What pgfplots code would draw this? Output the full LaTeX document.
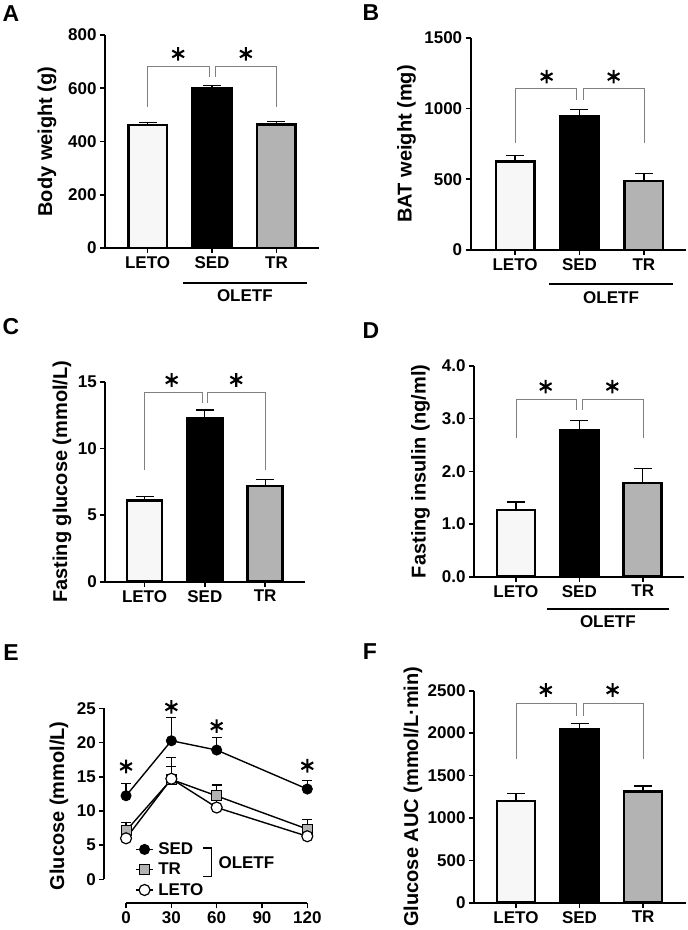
\documentclass[border=0pt]{standalone}
\usepackage{fontspec}
\setmainfont{Liberation Sans}
\usepackage{pgfplots}
\pgfplotsset{compat=1.18}
\definecolor{letof}{HTML}{F7F7F7}
\definecolor{trf}{HTML}{B3B3B3}
\definecolor{brk}{HTML}{808080}
\newcommand{\tickfont}{\fontsize{17}{18}\selectfont\bfseries}
\newcommand{\labfont}{\fontsize{20}{22}\selectfont\bfseries}
\newcommand{\letfont}{\fontsize{23}{24}\selectfont\bfseries}
\pgfplotsset{
 base/.style={scale only axis, axis x line*=bottom, axis y line*=left, tick align=outside,
   major tick length=5pt, axis line style={line width=1.8pt}, tick style={line width=1.6pt, black},
   clip=false, /pgf/number format/assume math mode=true, tick label style={font=\tickfont},
   ylabel style={font=\labfont}, /pgf/number format/1000 sep={}},
 barax/.style={base, ymin=0, xtick={0,1,2}, xticklabels={LETO,SED,TR}, bar width=0.6},
 myerr/.style={error bars/.cd, y dir=plus, y explicit, error bar style={line width=1.3pt, black},
   error mark options={rotate=90, line width=1.3pt, mark size=9pt, black}},
 mybar/.style={ybar, bar shift=0pt, draw=black, line width=2.6pt, fill=#1, myerr},
 lerr/.style={error bars/.cd, y dir=plus, y explicit, error bar style={line width=1.2pt},
   error mark options={rotate=90, line width=1.2pt, mark size=5pt}},
 brk/.style={draw=brk, line width=1.1pt},
 star/.style={only marks, mark=asterisk, mark size=6.8pt, line width=2.1pt, black},
}
\begin{document}
\begin{tikzpicture}
\path[use as bounding box] (0,0) rectangle (688pt,-930pt);
\node[font=\letfont] at (11pt,-14pt) {A};
\node[font=\letfont] at (371pt,-13pt) {B};
\node[font=\letfont] at (11pt,-327pt) {C};
\node[font=\letfont] at (371pt,-331pt) {D};
\node[font=\letfont] at (11pt,-653pt) {E};
\node[font=\letfont] at (370pt,-652pt) {F};

% A
\begin{axis}[barax, at={(105pt,-248pt)}, anchor=south west, width=214pt, height=213pt,
  xmin=-0.66, xmax=2.66, ymax=800, ytick={0,200,...,800}, ylabel={Body weight (g)},
  ylabel style={at={(axis description cs:-0.271,0.5)}, anchor=center}]
\addplot[mybar=letof] coordinates {(0,462) +- (0,10)};
\addplot[mybar=black] coordinates {(1,600) +- (0,11)};
\addplot[mybar=trf] coordinates {(2,463) +- (0,12)};
\draw[brk] (axis cs:0,530) |- (axis cs:0.95,681) -- (axis cs:0.95,643);
\draw[brk] (axis cs:2,530) |- (axis cs:1.05,681) -- (axis cs:1.05,643);
\addplot[star] coordinates {(0.475,729) (1.525,729)};
\draw[line width=2.2pt] ([yshift=-35pt]axis cs:0.55,0) -- ([yshift=-35pt]axis cs:2.47,0);
\node[font=\tickfont] at ([yshift=-48pt]axis cs:1.51,0) {OLETF};
\end{axis}

% B
\begin{axis}[barax, at={(470.7pt,-250pt)}, anchor=south west, width=215pt, height=212.3pt,
  xmin=-0.69, xmax=2.65, ymax=1500, ytick={0,500,1000,1500}, ylabel={BAT weight (mg)},
  ylabel style={at={(axis description cs:-0.299,0.5)}, anchor=center}]
\addplot[mybar=letof] coordinates {(0,624) +- (0,45)};
\addplot[mybar=black] coordinates {(1,942) +- (0,52)};
\addplot[mybar=trf] coordinates {(2,488) +- (0,54)};
\draw[brk] (axis cs:0,758) |- (axis cs:0.95,1143) -- (axis cs:0.95,1060);
\draw[brk] (axis cs:2,758) |- (axis cs:1.05,1143) -- (axis cs:1.05,1060);
\addplot[star] coordinates {(0.49,1225) (1.53,1225)};
\draw[line width=2.2pt] ([yshift=-34pt]axis cs:0.53,0) -- ([yshift=-34pt]axis cs:2.45,0);
\node[font=\tickfont] at ([yshift=-48pt]axis cs:1.49,0) {OLETF};
\end{axis}

% C
\begin{axis}[barax, at={(105.3pt,-581.7pt)}, anchor=south west, width=199.7pt, height=200pt,
  xmin=-0.65, xmax=2.66, ymax=15, ytick={0,5,10,15}, ylabel={Fasting glucose (mmol/L)}, bar width=0.58,
  ylabel style={at={(axis description cs:-0.217,0.5)}, anchor=center}]
\addplot[mybar=letof] coordinates {(0,6.08) +- (0,0.3)};
\addplot[mybar=black] coordinates {(1,12.23) +- (0,0.65)};
\addplot[mybar=trf] coordinates {(2,7.18) +- (0,0.5)};
\draw[brk] (axis cs:0,8.38) |- (axis cs:0.95,14.18) -- (axis cs:0.95,13.38);
\draw[brk] (axis cs:2,8.38) |- (axis cs:1.04,14.18) -- (axis cs:1.04,13.38);
\addplot[star] coordinates {(0.45,15.13) (1.52,15.13)};
\end{axis}

% D
\begin{axis}[barax, at={(474pt,-576.7pt)}, anchor=south west, width=210pt, height=210.7pt,
  xmin=-0.66, xmax=2.65, ymax=4, ytick={0,1,...,4}, ylabel={Fasting insulin (ng/ml)},
  yticklabel style={/pgf/number format/.cd, fixed, fixed zerofill, precision=1},
  ylabel style={at={(axis description cs:-0.255,0.5)}, anchor=center}]
\addplot[mybar=letof] coordinates {(0,1.27) +- (0,0.15)};
\addplot[mybar=black] coordinates {(1,2.77) +- (0,0.19)};
\addplot[mybar=trf] coordinates {(2,1.78) +- (0,0.28)};
\draw[brk] (axis cs:0,2.64) |- (axis cs:0.95,3.37) -- (axis cs:0.95,3.17);
\draw[brk] (axis cs:2,2.64) |- (axis cs:1.05,3.37) -- (axis cs:1.05,3.17);
\addplot[star] coordinates {(0.47,3.61) (1.52,3.61)};
\draw[line width=2.2pt] ([yshift=-32.6pt]axis cs:0.49,0) -- ([yshift=-32.6pt]axis cs:2.41,0);
\node[font=\tickfont] at ([yshift=-45pt]axis cs:1.45,0) {OLETF};
\end{axis}

% E
\begin{axis}[base, at={(104.3pt,-903.3pt)}, anchor=south west, width=203pt, height=195pt,
  xmin=-14.4, xmax=120, ymin=-3.5, ymax=25, ytick={0,5,...,25}, xtick={0,30,...,120},
  axis line style={draw=none}, ylabel={Glucose (mmol/L)},
  ylabel style={at={(axis description cs:-0.223,0.5)}, anchor=center},
  legend style={at={(axis cs:6,5.6)}, anchor=north west, draw=none, fill=none,
    font=\tickfont, row sep=4pt, column sep=3pt, inner sep=0pt, nodes={inner sep=1.5pt}}, legend cell align=left]
\addplot[black, line width=1.4pt, mark=*, mark size=5pt, mark options={fill=black, line width=1pt}, lerr]
  coordinates {(0,12.22) +- (0,1.8) (30,20.26) +- (0,3.35) (60,18.9) +- (0,1.8) (120,13.2) +- (0,1.3)};
\addplot[black, line width=1.4pt, mark=square*, mark size=5pt, mark options={fill=trf, line width=1pt}, lerr]
  coordinates {(0,7.1) +- (0,1.2) (30,14.6) +- (0,3.2) (60,12.2) +- (0,1.6) (120,7.35) +- (0,1.35)};
\addplot[black, line width=1.4pt, mark=*, mark size=5.5pt, mark options={fill=white, line width=1.2pt}, lerr]
  coordinates {(0,6.0) +- (0,0.8) (30,14.7) +- (0,1.8) (60,10.5) +- (0,1.5) (120,6.3) +- (0,1.0)};
\legend{SED,TR,LETO}
\addplot[star, forget plot] coordinates {(0,16.5) (30,25.2) (60,22.4) (120,16.6)};
\draw[line width=1.8pt] (axis cs:-14.4,0) -- (axis cs:-14.4,25);
\draw[line width=1.8pt] (axis cs:0,-3.5) -- (axis cs:120,-3.5);
\draw[line width=1.3pt] (axis cs:51,4.58) -- (axis cs:56.8,4.58) -- (axis cs:56.8,0.38) -- (axis cs:51,0.38);
\node[font=\tickfont, anchor=west] at (axis cs:58.9,2.43) {OLETF};
\end{axis}

% F
\begin{axis}[barax, at={(474pt,-902.7pt)}, anchor=south west, width=211.7pt, height=212pt,
  xmin=-0.66, xmax=2.67, ymax=2500, ytick={0,500,...,2500}, ylabel={Glucose AUC (mmol/L·min)},
  ylabel style={at={(axis description cs:-0.288,0.5)}, anchor=center}]
\addplot[mybar=letof] coordinates {(0,1199) +- (0,85)};
\addplot[mybar=black] coordinates {(1,2048) +- (0,68)};
\addplot[mybar=trf] coordinates {(2,1309) +- (0,67)};
\draw[brk] (axis cs:0,1691) |- (axis cs:0.95,2351) -- (axis cs:0.95,2202);
\draw[brk] (axis cs:2,1691) |- (axis cs:1.05,2351) -- (axis cs:1.05,2202);
\addplot[star] coordinates {(0.47,2508) (1.52,2508)};
\end{axis}
\end{tikzpicture}
\end{document}
